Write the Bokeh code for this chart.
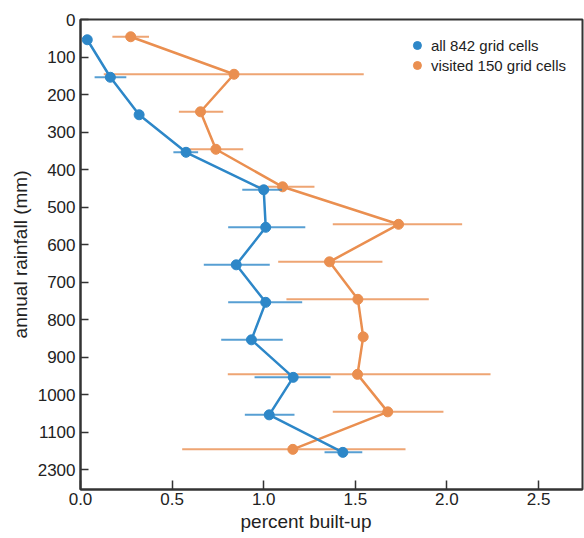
import numpy as np
from bokeh.plotting import figure
from bokeh.models import Range1d, FixedTicker, Legend, LegendItem, Title, PrintfTickFormatter
from bokeh.embed import file_html
from bokeh.resources import INLINE

nan = float("nan")

# rainfall bin edges (tick labels on the y axis)
rain_edges = ["0", "100", "200", "300", "400", "500", "600", "700", "800",
              "900", "1000", "1100", "2300"]

# series 1: all 842 grid cells
all_label = "all 842 grid cells"
all_x = [0.037, 0.163, 0.320, 0.576, 1.000, 1.011, 0.850, 1.011, 0.933, 1.161, 1.030, 1.432]
all_lo = [nan, 0.077, nan, 0.507, 0.883, 0.806, 0.673, 0.806, 0.768, 0.950, 0.897, 1.332]
all_hi = [nan, 0.250, nan, 0.642, 1.100, 1.227, 1.033, 1.210, 1.104, 1.365, 1.168, 1.538]

# series 2: visited 150 grid cells
vis_label = "visited 150 grid cells"
vis_x = [0.274, 0.838, 0.655, 0.739, 1.103, 1.736, 1.359, 1.514, 1.543, 1.512, 1.677, 1.159]
vis_lo = [0.174, 0.127, 0.537, 0.590, 0.955, 1.377, 1.079, 1.124, nan, 0.804, 1.377, 0.555]
vis_hi = [0.374, 1.546, 0.779, 0.888, 1.277, 2.083, 1.648, 1.901, nan, 2.238, 1.981, 1.774]

x_ticks = [0.0, 0.5, 1.0, 1.5, 2.0, 2.5]

BLUE = "#2D87C8"
ORANGE = "#EA8F50"
TEXT = "#222222"
AXIS = "#333333"
FONT = "Liberation Sans"

n_bins = len(rain_edges) - 1
mid = np.arange(n_bins) + 0.5
all_y = mid + 0.04
vis_y = mid - 0.04

p = figure(width=584, height=538, output_backend="svg", toolbar_location=None,
           x_range=Range1d(0, 2.74), y_range=Range1d(len(rain_edges) - 0.47, 0),
           min_border_left=80, min_border_right=2, min_border_top=19, min_border_bottom=49)

p.background_fill_color = "white"
p.border_fill_color = "white"
p.outline_line_color = AXIS
p.outline_line_width = 2
p.xgrid.visible = False
p.ygrid.visible = False

# series 2 (orange)
p.segment(x0=vis_lo, y0=vis_y, x1=vis_hi, y1=vis_y, line_color=ORANGE, line_width=2, line_alpha=0.8)
p.line(vis_x, vis_y, line_color=ORANGE, line_width=2.5)
r_vis = p.scatter(vis_x, vis_y, size=10, fill_color=ORANGE, line_color=ORANGE)

# series 1 (blue)
p.segment(x0=all_lo, y0=all_y, x1=all_hi, y1=all_y, line_color=BLUE, line_width=2, line_alpha=0.8)
p.line(all_x, all_y, line_color=BLUE, line_width=2.5)
r_all = p.scatter(all_x, all_y, size=10, fill_color=BLUE, line_color=BLUE)

# axes
xa = p.xaxis[0]
xa.ticker = FixedTicker(ticks=x_ticks)
xa.formatter = PrintfTickFormatter(format="%.1f")
ya = p.yaxis[0]
ya.ticker = FixedTicker(ticks=list(range(len(rain_edges))))
ya.major_label_overrides = {i: lab for i, lab in enumerate(rain_edges)}
ya.axis_label = "annual rainfall (mm)"
ya.axis_label_standoff = 4

for ax in (xa, ya):
    ax.minor_tick_line_color = None
    ax.major_tick_out = 0
    ax.axis_line_color = AXIS
    ax.axis_line_width = 2
    ax.major_tick_line_color = AXIS
    ax.major_tick_line_width = 1.5
    ax.major_label_text_font = FONT
    ax.major_label_text_font_size = "17px"
    ax.major_label_text_color = TEXT
    ax.axis_label_text_font = FONT
    ax.axis_label_text_font_size = "19px"
    ax.axis_label_text_font_style = "normal"
    ax.axis_label_text_color = TEXT
xa.major_tick_in = 9
ya.major_tick_in = 8
xa.major_label_standoff = 3
ya.major_label_standoff = 5

# x axis title (sits left of centre in the reference)
p.add_layout(Title(text="percent built-up", align="left", offset=160, standoff=2,
                   text_font=FONT, text_font_size="19px", text_font_style="normal",
                   text_color=TEXT), "below")

legend = Legend(items=[LegendItem(label=all_label, renderers=[r_all]),
                       LegendItem(label=vis_label, renderers=[r_vis])],
                location="top_right", border_line_color=None, background_fill_alpha=0,
                label_text_font=FONT, label_text_font_size="15px", label_text_color=TEXT,
                glyph_width=22, glyph_height=20, label_standoff=3, label_height=20,
                spacing=0, padding=0, margin=16)
p.add_layout(legend)

open("out.html", "w").write(file_html(p, INLINE))
